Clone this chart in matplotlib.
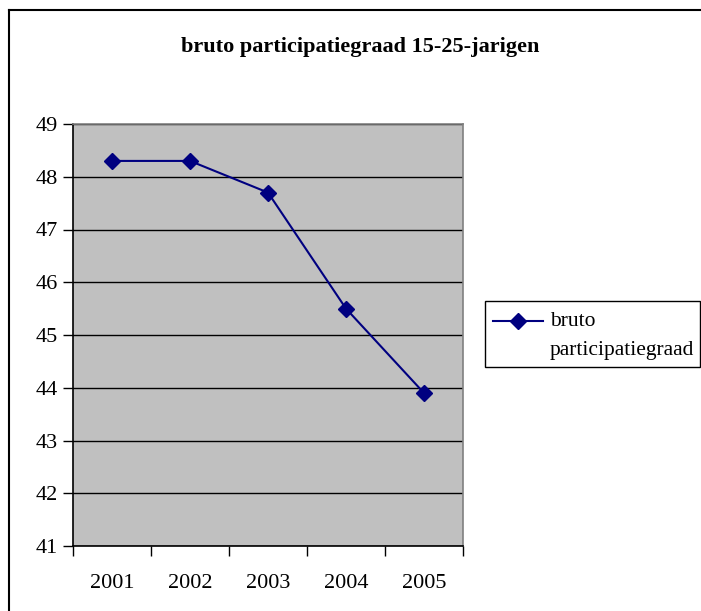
import matplotlib.pyplot as plt
from matplotlib.lines import Line2D
from matplotlib.patches import Rectangle

years = ['2001', '2002', '2003', '2004', '2005']
values = [48.3, 48.3, 47.7, 45.5, 43.9]
title = 'bruto participatiegraad 15-25-jarigen'
series_name = 'bruto participatiegraad'

plt.rcParams['font.family'] = ['Liberation Serif', 'DejaVu Serif']

W, H = 701, 611
fig = plt.figure(figsize=(W/100, H/100), dpi=100)

def fx(px):
    return px/W

def fy(py):
    return 1 - py/H

ax = fig.add_axes([fx(73), fy(546), fx(463)-fx(73), fy(124)-fy(546)])
ax.set_facecolor('#c0c0c0')

x = list(range(len(years)))
ax.plot(x, values, color='#000080', lw=1.5, marker='D', markersize=8,
        markerfacecolor='#000080', markeredgecolor='#000080', zorder=3)

ax.set_xlim(-0.5, len(years)-0.5)
ax.set_ylim(41, 49)
ax.set_yticks(range(41, 50))
ax.yaxis.grid(True, color='black', lw=1)
ax.set_axisbelow(True)

# x ticks between categories, labels centered
ax.set_xticks([i-0.5 for i in range(len(years)+1)])
ax.set_xticklabels([])
ax.set_xticks(x, minor=True)
ax.set_xticklabels(years, minor=True)
ax.tick_params(axis='x', which='major', length=7, width=1, direction='out', color='black')
ax.tick_params(axis='x', which='minor', length=0, pad=20, labelsize=16)
ax.tick_params(axis='y', length=7, width=1, direction='out', labelsize=16, pad=4)

ax.spines['left'].set_color('black')
ax.spines['bottom'].set_color('black')
ax.spines['top'].set_color('#808080')
ax.spines['right'].set_color('#808080')
for s in ax.spines.values():
    s.set_linewidth(1.2)

fig.text(fx(360), fy(47), title, ha='center', va='center',
         fontsize=16, fontweight='bold')

# legend box
fig.patches.append(Rectangle((fx(485), fy(367)), fx(700)-fx(485), fy(301)-fy(367),
                             transform=fig.transFigure, facecolor='white',
                             edgecolor='black', lw=1))
fig.lines.append(Line2D([fx(493), fx(543)], [fy(321), fy(321)], transform=fig.transFigure,
                        color='#000080', lw=1.5))
fig.lines.append(Line2D([fx(518)], [fy(321)], transform=fig.transFigure,
                        marker='D', markersize=8, color='#000080', lw=0))
name_lines = series_name.split(' ')
fig.text(fx(550), fy(321), name_lines[0], ha='left', va='center', fontsize=15.5)
fig.text(fx(550), fy(350), name_lines[1], ha='left', va='center', fontsize=15.5)

# outer chart border (left and top visible)
fig.lines.append(Line2D([fx(9), fx(9)], [0, fy(10)], transform=fig.transFigure,
                        color='black', lw=1.5))
fig.lines.append(Line2D([fx(9), 1], [fy(10), fy(10)], transform=fig.transFigure,
                        color='black', lw=1.5))

fig.savefig('out.png', dpi=100)
